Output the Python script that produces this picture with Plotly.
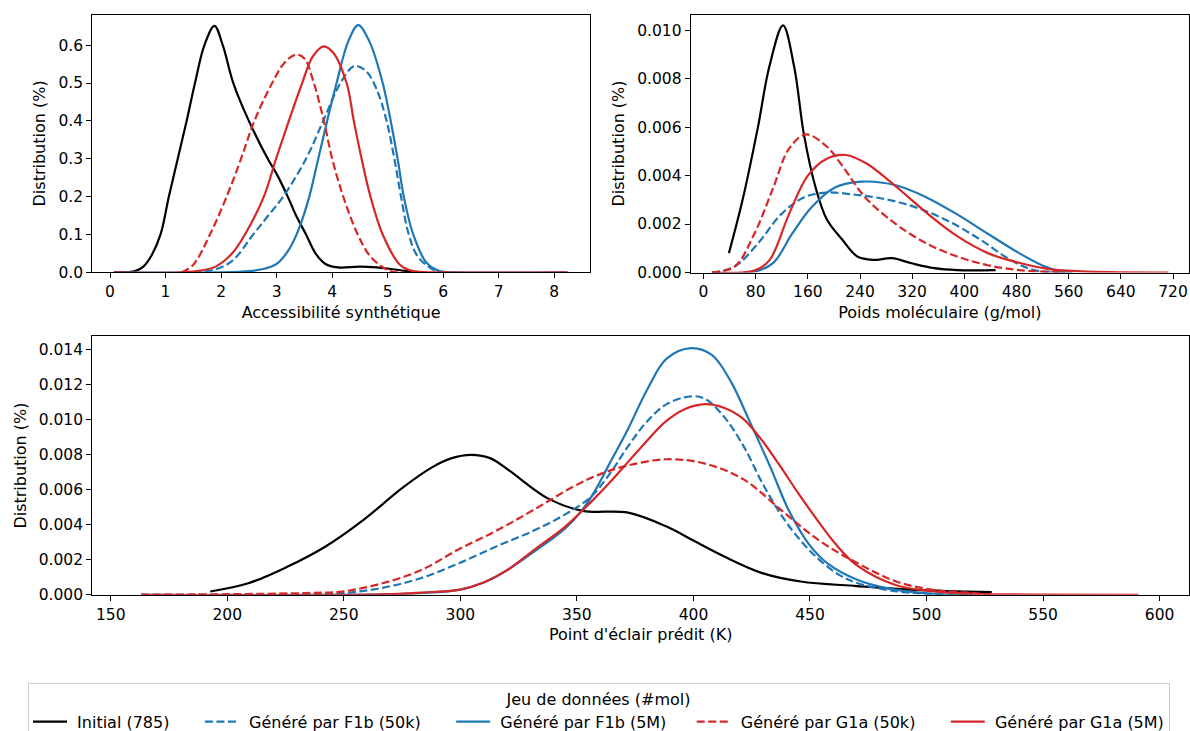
import plotly.graph_objects as go

# ---------------- data ----------------
series_names = ["Initial (785)", "Généré par F1b (50k)", "Généré par F1b (5M)",
                "Généré par G1a (50k)", "Généré par G1a (5M)"]

# Accessibilité synthétique
sa_init_x = [0.07, 0.45, 0.6, 0.75, 0.91, 1.06, 1.22, 1.38, 1.53, 1.7, 1.88, 2.03, 2.22, 2.5, 2.84, 3.0, 3.2, 3.35, 3.53, 3.7, 3.88, 4.1, 4.5, 4.8, 5.0, 5.3, 5.6]
sa_init_y = [0.0, 0.003, 0.015, 0.045, 0.1, 0.2, 0.3, 0.4, 0.5, 0.6, 0.651, 0.6, 0.5, 0.4, 0.3, 0.26, 0.2, 0.15, 0.1, 0.05, 0.022, 0.013, 0.015, 0.013, 0.01, 0.004, 0.0]
sa_f1b50k_x = [1.5, 1.9, 2.2, 2.58, 2.85, 3.12, 3.53, 3.84, 4.15, 4.4, 4.62, 4.81, 4.98, 5.12, 5.24, 5.38, 5.55, 5.88, 6.2]
sa_f1b50k_y = [0.0, 0.008, 0.03, 0.1, 0.15, 0.2, 0.3, 0.4, 0.5, 0.545, 0.53, 0.48, 0.4, 0.3, 0.2, 0.1, 0.04, 0.003, 0.0]
sa_f1b5m_x = [0.1, 2.0, 2.5, 2.8, 3.0, 3.2, 3.36, 3.57, 3.75, 3.91, 4.08, 4.29, 4.47, 4.67, 4.91, 5.08, 5.19, 5.29, 5.46, 5.7, 5.94, 6.3, 8.2]
sa_f1b5m_y = [0.0, 0.0, 0.003, 0.01, 0.022, 0.055, 0.1, 0.19, 0.3, 0.4, 0.5, 0.61, 0.653, 0.61, 0.5, 0.38, 0.29, 0.2, 0.1, 0.025, 0.003, 0.0, 0.0]
sa_g1a50k_x = [1.29, 1.5, 1.8, 2.1, 2.36, 2.6, 2.92, 3.15, 3.35, 3.5, 3.67, 3.85, 4.0, 4.2, 4.46, 4.7, 5.05, 5.3]
sa_g1a50k_y = [0.0, 0.02, 0.1, 0.2, 0.3, 0.4, 0.5, 0.555, 0.575, 0.565, 0.5, 0.4, 0.3, 0.2, 0.1, 0.04, 0.003, 0.0]
sa_g1a5m_x = [0.1, 1.5, 1.9, 2.2, 2.43, 2.77, 2.99, 3.22, 3.46, 3.65, 3.85, 4.02, 4.26, 4.39, 4.53, 4.69, 4.91, 5.22, 5.46, 6.0, 8.25]
sa_g1a5m_y = [0.0, 0.002, 0.015, 0.05, 0.1, 0.2, 0.3, 0.4, 0.5, 0.57, 0.597, 0.58, 0.5, 0.4, 0.3, 0.2, 0.1, 0.02, 0.003, 0.0, 0.0]

# Poids moléculaire
mw_init_x = [39, 60, 83.5, 101, 122, 139, 154, 172, 189, 213, 236, 260, 289, 319, 354, 389, 448]
mw_init_y = [0.0008, 0.003, 0.006, 0.0085, 0.0102, 0.0085, 0.0057, 0.0035, 0.0022, 0.00135, 0.00066, 0.00052, 0.00059, 0.00038, 0.00018, 0.0001, 0.0001]
mw_f1b50k_x = [13, 48, 83.5, 119, 154, 189, 236, 284, 330, 377, 425, 472, 507, 554]
mw_f1b50k_y = [0.0, 0.00025, 0.0012, 0.0024, 0.0031, 0.0033, 0.0032, 0.003, 0.00265, 0.0021, 0.00135, 0.0005, 0.0001, 0.0]
mw_f1b5m_x = [13, 78, 107, 136, 166, 201, 242, 295, 342, 389, 436, 484, 519, 548, 566]
mw_f1b5m_y = [0.0, 0.00003, 0.0004, 0.0016, 0.0027, 0.0035, 0.00375, 0.0036, 0.0031, 0.0024, 0.0016, 0.0008, 0.0003, 0.00004, 0.0]
mw_g1a50k_x = [13, 48, 78, 107, 131, 157, 189, 213, 248, 295, 342, 389, 436, 484, 554]
mw_g1a50k_y = [0.0, 0.00025, 0.0016, 0.0035, 0.0051, 0.0057, 0.0052, 0.0044, 0.0031, 0.002, 0.0012, 0.00066, 0.0003, 0.0001, 0.0]
mw_g1a5m_x = [13, 78, 101, 131, 160, 189, 218, 250, 284, 319, 354, 389, 436, 484, 530, 589, 713]
mw_g1a5m_y = [0.0, 0.00008, 0.0005, 0.0024, 0.004, 0.0047, 0.00485, 0.0045, 0.0038, 0.003, 0.0022, 0.0015, 0.0008, 0.0004, 0.00014, 0.00004, 0.0]

# Point d'éclair prédit
fp_init_x = [192.7, 209, 225.7, 242, 258.6, 275, 288, 296, 304.7, 313, 321, 337.7, 352.6, 372, 388.5, 400, 413, 429.5, 446, 470, 495, 528]
fp_init_y = [0.00019, 0.00066, 0.0016, 0.00275, 0.0043, 0.0061, 0.0073, 0.0078, 0.008, 0.0078, 0.0071, 0.0055, 0.0048, 0.0047, 0.0039, 0.0031, 0.0022, 0.00124, 0.00076, 0.0005, 0.00028, 0.00015]
fp_f1b50k_x = [163, 233.7, 250, 266.6, 283, 299.3, 316, 332, 345, 356, 364, 372, 380, 388.5, 399, 405, 413, 421.5, 429.5, 438, 446, 454, 462.5, 470.5, 487, 503, 520]
fp_f1b50k_y = [0.0, 0.00003, 0.0001, 0.0004, 0.00095, 0.0018, 0.0028, 0.0037, 0.0046, 0.0056, 0.0069, 0.0085, 0.0099, 0.0109, 0.01135, 0.0112, 0.0102, 0.0085, 0.0064, 0.0045, 0.0031, 0.002, 0.00114, 0.00066, 0.0002, 0.00004, 0.0]
fp_f1b5m_x = [163, 266.6, 283, 300, 310, 320, 332, 345, 352, 358, 364, 372, 380, 388.5, 399, 408, 416, 424.5, 433, 441, 449.5, 457.5, 470.5, 487, 503, 520]
fp_f1b5m_y = [0.0, 0.00002, 0.0001, 0.0003, 0.0007, 0.0014, 0.0025, 0.0038, 0.0048, 0.006, 0.0075, 0.0095, 0.0117, 0.0135, 0.0141, 0.0137, 0.0122, 0.0098, 0.0073, 0.0048, 0.0029, 0.0018, 0.00085, 0.00028, 0.00006, 0.0]
fp_g1a50k_x = [163, 233.7, 250, 266.6, 283, 299.3, 316, 332, 348.7, 360, 372, 388.5, 405, 421.5, 438, 454, 470.5, 487, 503, 520, 528]
fp_g1a50k_y = [0.0, 0.0001, 0.0002, 0.00066, 0.0014, 0.0026, 0.0037, 0.0049, 0.0062, 0.0069, 0.0074, 0.00775, 0.0075, 0.0066, 0.0048, 0.0031, 0.0018, 0.00076, 0.00028, 0.0001, 0.0]
fp_g1a5m_x = [163, 266.6, 283, 300, 310, 320, 332, 345, 356, 364, 372, 380, 388, 396, 405, 413, 421, 429, 437, 445, 453, 461, 470, 487, 503, 520, 553, 591]
fp_g1a5m_y = [0.0, 0.00003, 0.00013, 0.0003, 0.0007, 0.0014, 0.0026, 0.0039, 0.0053, 0.0064, 0.0076, 0.0088, 0.0099, 0.0106, 0.0109, 0.0107, 0.0101, 0.0089, 0.0074, 0.0058, 0.0043, 0.0029, 0.0017, 0.00055, 0.0002, 0.00006, 0.00001, 0.0]

# tick values
sa_ticks = [0, 1, 2, 3, 4, 5, 6, 7, 8]
sa_yticks = [0.0, 0.1, 0.2, 0.3, 0.4, 0.5, 0.6]
mw_ticks = [0, 80, 160, 240, 320, 400, 480, 560, 640, 720]
mw_yticks = [0.0, 0.002, 0.004, 0.006, 0.008, 0.010]
fp_ticks = [150, 200, 250, 300, 350, 400, 450, 500, 550, 600]
fp_yticks = [0.0, 0.002, 0.004, 0.006, 0.008, 0.010, 0.012, 0.014]

# ---------------- styling ----------------
BLACK = "black"
BLUE = "#1f77b4"
RED = "#d62728"
colors = [BLACK, BLUE, BLUE, RED, RED]
dashes = ["solid", "8px,3.5px", "solid", "8px,3.5px", "solid"]
legend_pad = [5, 5, 4, 5, 0]   # spacing between legend entries (non-breaking spaces)
NB = "\u00a0"
FONT = "DejaVu Sans"

panels = [
    ("x", "y", [(sa_init_x, sa_init_y), (sa_f1b50k_x, sa_f1b50k_y), (sa_f1b5m_x, sa_f1b5m_y),
                (sa_g1a50k_x, sa_g1a50k_y), (sa_g1a5m_x, sa_g1a5m_y)]),
    ("x2", "y2", [(mw_init_x, mw_init_y), (mw_f1b50k_x, mw_f1b50k_y), (mw_f1b5m_x, mw_f1b5m_y),
                  (mw_g1a50k_x, mw_g1a50k_y), (mw_g1a5m_x, mw_g1a5m_y)]),
    ("x3", "y3", [(fp_init_x, fp_init_y), (fp_f1b50k_x, fp_f1b50k_y), (fp_f1b5m_x, fp_f1b5m_y),
                  (fp_g1a50k_x, fp_g1a50k_y), (fp_g1a5m_x, fp_g1a5m_y)]),
]

fig = go.Figure()
for p, (xa, ya, curves) in enumerate(panels):
    for i, (xs, ys) in enumerate(curves):
        fig.add_trace(go.Scatter(
            x=xs, y=ys, xaxis=xa, yaxis=ya, mode="lines",
            name=NB + series_names[i] + NB * legend_pad[i],
            legendgroup=series_names[i], showlegend=(p == 0),
            line=dict(color=colors[i], width=2.2, dash=dashes[i], shape="spline", smoothing=1.0),
            hoverinfo="skip",
        ))

W, H = 1190, 731


def fx(px):
    return px / W


def fy(py):
    return (H - py) / H


def axis_style(**kw):
    d = dict(showline=True, linecolor="black", linewidth=1.2, mirror=True,
             ticks="outside", ticklen=5, tickwidth=1.2, tickcolor="black",
             showgrid=False, zeroline=False, automargin=False,
             tickfont=dict(family=FONT, size=15.5, color="black"))
    d.update(kw)
    return d


def title(t, standoff):
    return dict(text=t, font=dict(family=FONT, size=16, color="black"), standoff=standoff)


fig.update_layout(
    width=W, height=H, margin=dict(l=0, r=0, t=0, b=0, autoexpand=False),
    paper_bgcolor="white", plot_bgcolor="white",
    font=dict(family=FONT, size=16, color="black"),
    xaxis=axis_style(domain=[fx(92.3), fx(590)], range=[-0.319, 8.643], tickvals=sa_ticks,
                     anchor="y", title=title("Accessibilité synthétique", 6)),
    yaxis=axis_style(domain=[fy(272.3), fy(14.5)], range=[0, 0.681], tickvals=sa_yticks,
                     tickformat=".1f", anchor="x", title=title("Distribution (%)", 8)),
    xaxis2=axis_style(domain=[fx(690.7), fx(1189)], range=[-19.6, 744.5], tickvals=mw_ticks,
                      anchor="y2", title=title("Poids moléculaire (g/mol)", 6)),
    yaxis2=axis_style(domain=[fy(272.5), fy(14.5)], range=[0, 0.01065], tickvals=mw_yticks,
                      tickformat=".3f", anchor="x2", title=title("Distribution (%)", 8)),
    xaxis3=axis_style(domain=[fx(92.3), fx(1189)], range=[142.1, 612.6], tickvals=fp_ticks,
                      anchor="y3", title=title("Point d'éclair prédit (K)", 6)),
    yaxis3=axis_style(domain=[fy(594.8), fy(336.3)], range=[0, 0.01478], tickvals=fp_yticks,
                      tickformat=".3f", anchor="x3", title=title("Distribution (%)", 8)),
    legend=dict(orientation="h", x=fx(28), xanchor="left", y=fy(683), yanchor="top",
                bordercolor="#cccccc", borderwidth=1, bgcolor="white",
                font=dict(family=FONT, size=16, color="black"),
                title=dict(text="Jeu de données (#mol)", side="top center",
                           font=dict(family=FONT, size=16, color="black")),
                itemwidth=34),
)

fig.write_html(
    "out.html",
    config={"displayModeBar": False},
    post_script="document.body.style.margin='0';document.body.style.overflow='hidden';",
)
